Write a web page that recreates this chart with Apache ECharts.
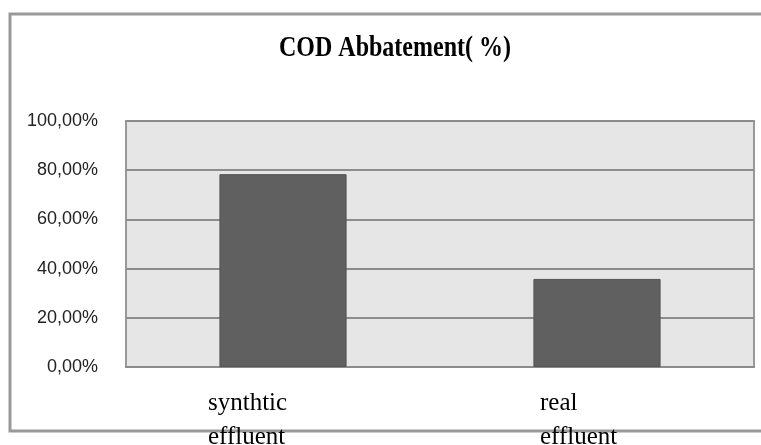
<!DOCTYPE html>
<html>
<head>
<meta charset="utf-8">
<script src="https://cdn.jsdelivr.net/npm/echarts@6/dist/echarts.min.js"></script>
<style>
html, body { margin: 0; padding: 0; background: #fff; }
#main { width: 761px; height: 445px; }
</style>
</head>
<body>
<div id="main"></div>
<script>
var chartTitle = 'COD Abbatement( %)';
var categories = ['synthtic\neffluent', 'real\neffluent'];
var abatement = [0.784, 0.358];

var dom = document.getElementById('main');
var myChart = echarts.init(dom);

function pct(v) {
    return (v * 100).toFixed(2).replace('.', ',') + '%';
}

// each line left aligned inside a fixed box, like the text boxes of the original
function catLabel(v) {
    return v.split('\n').map(function (s) { return '{a|' + s + '}'; }).join('\n');
}

var option = {
    backgroundColor: '#fff',
    animation: false,
    graphic: [
        {
            type: 'rect',
            shape: { x: 10, y: 14, width: 800, height: 417 },
            style: { fill: 'none', stroke: '#999', lineWidth: 3 },
            silent: true
        },
        {
            type: 'text',
            x: 395,
            y: 48,
            scaleX: 0.8,
            style: {
                text: chartTitle,
                x: 0,
                y: 0,
                align: 'center',
                verticalAlign: 'middle',
                textAlign: 'center',
                textVerticalAlign: 'middle',
                fill: '#000',
                font: 'bold 30px "Liberation Serif", "Times New Roman", serif'
            },
            silent: true
        }
    ],
    grid: {
        left: 126,
        right: 7,
        top: 121,
        bottom: 78,
        outerBoundsMode: 'none',
        containLabel: false,
        show: true,
        backgroundColor: '#e6e6e6',
        borderColor: '#999',
        borderWidth: 2
    },
    xAxis: {
        type: 'category',
        data: [
            { value: categories[0], textStyle: { padding: [0, 68, 0, 0] } },
            { value: categories[1], textStyle: { padding: [0, 32, 0, 0] } }
        ],
        axisLine: { show: true, lineStyle: { color: '#8c8c8c', width: 2 } },
        axisTick: { show: false },
        axisLabel: {
            margin: 19,
            color: '#000',
            align: 'center',
            formatter: catLabel,
            rich: {
                a: {
                    width: 82,
                    align: 'left',
                    color: '#000',
                    fontFamily: '"Liberation Serif", serif',
                    fontSize: 25,
                    lineHeight: 34
                }
            }
        }
    },
    yAxis: {
        type: 'value',
        min: 0,
        max: 1,
        interval: 0.2,
        axisLine: { show: false },
        axisTick: { show: false },
        axisLabel: {
            margin: 28,
            color: '#222',
            fontFamily: '"Liberation Sans", Arial, sans-serif',
            fontSize: 18,
            formatter: pct
        },
        splitLine: { show: true, lineStyle: { color: '#8c8c8c', width: 2 } }
    },
    series: [
        {
            type: 'bar',
            data: abatement,
            barWidth: '40.5%',
            itemStyle: { color: '#606060', borderColor: '#555', borderWidth: 1 }
        }
    ]
};

myChart.setOption(option, true);
</script>
</body>
</html>
